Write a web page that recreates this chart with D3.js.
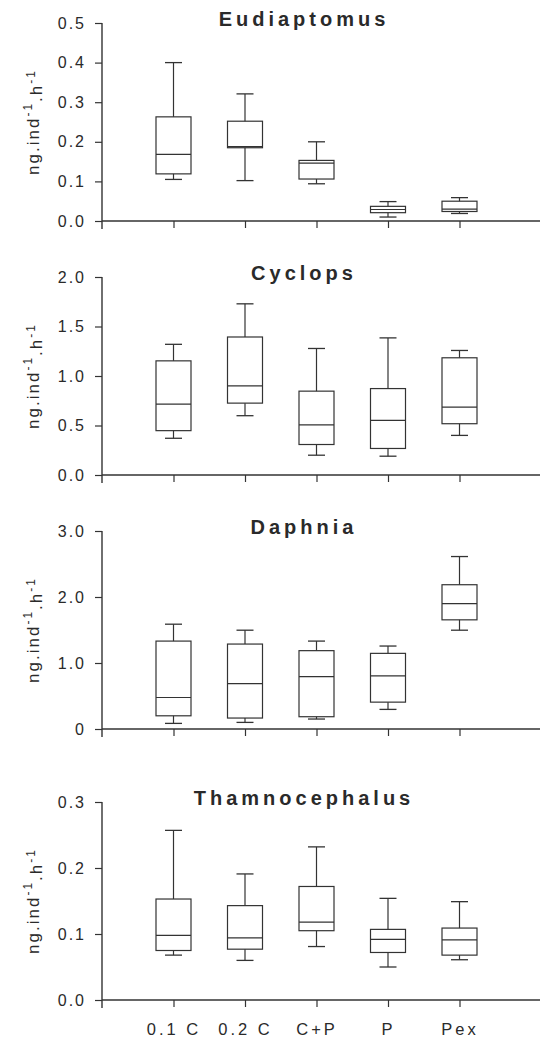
<!DOCTYPE html>
<html>
<head>
<meta charset="utf-8">
<script src="https://cdn.jsdelivr.net/npm/d3@7"></script>
<style>
    body { margin: 0; background: #fff; }
    svg text { font-family: "Liberation Sans", Arial, sans-serif; fill: #2a2a2a; }
</style>
</head>
<body>
<svg id="chart" width="540" height="1040"></svg>
<script>
// treatments on the x axis
const categories = ["0.1 C", "0.2 C", "C+P", "P", "Pex"];
const titles = ["Eudiaptomus", "Cyclops", "Daphnia", "Thamnocephalus"];

// each row: [whisker low, Q1, median, Q3, whisker high]
const eudiaptomus = [
    [0.105, 0.119, 0.168, 0.263, 0.400],
    [0.102, 0.185, 0.188, 0.252, 0.321],
    [0.094, 0.106, 0.146, 0.153, 0.200],
    [0.010, 0.021, 0.029, 0.037, 0.049],
    [0.019, 0.024, 0.030, 0.050, 0.059]
];
const cyclops = [
    [0.371, 0.448, 0.716, 1.153, 1.320],
    [0.599, 0.726, 0.900, 1.394, 1.729],
    [0.200, 0.308, 0.506, 0.847, 1.278],
    [0.190, 0.268, 0.552, 0.873, 1.385],
    [0.400, 0.518, 0.686, 1.184, 1.258]
];
const daphnia = [
    [0.085, 0.200, 0.477, 1.332, 1.588],
    [0.100, 0.166, 0.689, 1.287, 1.497],
    [0.151, 0.186, 0.795, 1.187, 1.332],
    [0.297, 0.407, 0.804, 1.146, 1.257],
    [1.497, 1.654, 1.900, 2.186, 2.613]
];
const thamnocephalus = [
    [0.068, 0.075, 0.098, 0.153, 0.257],
    [0.060, 0.077, 0.094, 0.143, 0.191],
    [0.081, 0.105, 0.118, 0.172, 0.232],
    [0.050, 0.072, 0.092, 0.107, 0.154],
    [0.061, 0.068, 0.091, 0.109, 0.149]
];
const series = [eudiaptomus, cyclops, daphnia, thamnocephalus];

const yMaxes = [0.5, 2.0, 3.0, 0.3];
const yTicks = [
    [0, 0.1, 0.2, 0.3, 0.4, 0.5],
    [0, 0.5, 1.0, 1.5, 2.0],
    [0, 1, 2, 3],
    [0, 0.1, 0.2, 0.3]
];
const yTickLabels = [
    ["0.0", "0.1", "0.2", "0.3", "0.4", "0.5"],
    ["0.0", "0.5", "1.0", "1.5", "2.0"],
    ["0", "1.0", "2.0", "3.0"],
    ["0.0", "0.1", "0.2", "0.3"]
];

// layout
const axisX = 102;
const panelTops = [23, 277, 531, 802];
const plotH = 198;
const boxW = 35;
const capW = 17;
const stroke = "#333";

const svg = d3.select("#chart");

const x = d3.scalePoint()
    .domain(categories)
    .range([axisX, axisX + 71.5 * 6])
    .padding(1);

series.forEach((data, p) => {
    const top = panelTops[p];
    const g = svg.append("g");

    const y = d3.scaleLinear()
        .domain([0, yMaxes[p]])
        .range([top + plotH, top]);

    // y axis
    const yAxis = d3.axisLeft(y)
        .tickValues(yTicks[p])
        .tickFormat((d, i) => yTickLabels[p][i])
        .tickSizeInner(7)
        .tickSizeOuter(0)
        .tickPadding(9);

    const ya = g.append("g")
        .attr("transform", `translate(${axisX},0)`)
        .call(yAxis);
    ya.select(".domain").remove();
    ya.selectAll("line").attr("stroke", stroke).attr("stroke-width", 1.2);
    ya.selectAll("text")
        .style("font-size", "16px")
        .style("letter-spacing", "2px")
        .attr("fill", "#333");

    g.append("line")
        .attr("x1", axisX).attr("x2", axisX)
        .attr("y1", y(yMaxes[p])).attr("y2", y(0) + 8)
        .attr("stroke", stroke).attr("stroke-width", 1.4);

    // x axis
    const xAxis = d3.axisBottom(x)
        .tickSizeInner(7)
        .tickSizeOuter(0)
        .tickPadding(16)
        .tickFormat(p === series.length - 1 ? (d => d) : (() => ""));

    const xa = g.append("g")
        .attr("transform", `translate(0,${y(0)})`)
        .call(xAxis);
    xa.select(".domain")
        .attr("d", `M${axisX},0H540`)
        .attr("stroke", stroke).attr("stroke-width", 1.4);
    xa.selectAll("line").attr("stroke", stroke).attr("stroke-width", 1.2);
    xa.selectAll("text")
        .style("font-size", "16.5px")
        .style("letter-spacing", "3px")
        .attr("fill", "#333");

    // title
    g.append("text")
        .attr("x", 304)
        .attr("y", top + 3)
        .attr("text-anchor", "middle")
        .style("font-size", "20px")
        .style("font-weight", "bold")
        .style("letter-spacing", "4px")
        .attr("fill", "#222")
        .text(titles[p]);

    // y label
    const lab = g.append("text")
        .attr("transform", `translate(39,${top + plotH / 2}) rotate(-90)`)
        .attr("text-anchor", "middle")
        .style("font-size", "17px")
        .style("letter-spacing", "2px")
        .attr("fill", "#333");
    lab.append("tspan").text("ng.ind");
    lab.append("tspan").attr("dy", "-0.55em").style("font-size", "12px").text("-1");
    lab.append("tspan").attr("dy", "0.55em").text(".h");
    lab.append("tspan").attr("dy", "-0.55em").style("font-size", "12px").text("-1");

    // boxes
    const boxes = g.selectAll(".box")
        .data(data)
        .enter().append("g")
        .attr("class", "box")
        .attr("transform", (d, i) => `translate(${x(categories[i])},0)`);

    boxes.append("line")
        .attr("x1", 0).attr("x2", 0)
        .attr("y1", d => y(d[3])).attr("y2", d => y(d[4]))
        .attr("stroke", stroke).attr("stroke-width", 1.2);
    boxes.append("line")
        .attr("x1", 0).attr("x2", 0)
        .attr("y1", d => y(d[0])).attr("y2", d => y(d[1]))
        .attr("stroke", stroke).attr("stroke-width", 1.2);
    boxes.append("line")
        .attr("x1", -capW / 2).attr("x2", capW / 2)
        .attr("y1", d => y(d[4])).attr("y2", d => y(d[4]))
        .attr("stroke", stroke).attr("stroke-width", 1.3);
    boxes.append("line")
        .attr("x1", -capW / 2).attr("x2", capW / 2)
        .attr("y1", d => y(d[0])).attr("y2", d => y(d[0]))
        .attr("stroke", stroke).attr("stroke-width", 1.3);
    boxes.append("rect")
        .attr("x", -boxW / 2)
        .attr("width", boxW)
        .attr("y", d => y(d[3]))
        .attr("height", d => y(d[1]) - y(d[3]))
        .attr("fill", "none")
        .attr("stroke", stroke).attr("stroke-width", 1.2);
    boxes.append("line")
        .attr("x1", -boxW / 2).attr("x2", boxW / 2)
        .attr("y1", d => y(d[2])).attr("y2", d => y(d[2]))
        .attr("stroke", stroke).attr("stroke-width", 1.2);
});
</script>
</body>
</html>
